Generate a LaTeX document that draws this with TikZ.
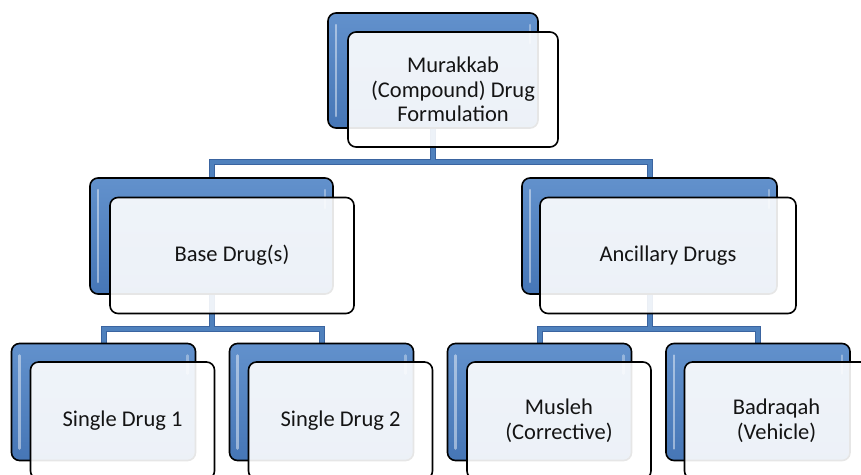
\documentclass[tikz,border=0pt]{standalone}
\usepackage{fontspec}
\setmainfont{Carlito}
\usetikzlibrary{backgrounds}
\definecolor{ablue}{RGB}{79,129,189}
\definecolor{dblue}{RGB}{58,100,160}
\definecolor{tblue}{RGB}{98,145,204}
\definecolor{bblue}{RGB}{70,118,182}
\definecolor{txt}{RGB}{20,20,20}
\tikzset{
  backbox/.style={draw=black, line width=1.6pt, rounded corners=8pt,
    top color=tblue, bottom color=bblue, inner sep=0pt,
    path picture={
      \draw[white, opacity=0.45, line width=2.5pt, line cap=round]
        ([xshift=8pt,yshift=-12pt]path picture bounding box.north west)
        -- ([xshift=8pt,yshift=12pt]path picture bounding box.south west);
      \draw[white, opacity=0.35, line width=2.5pt, line cap=round]
        ([xshift=-8pt,yshift=-12pt]path picture bounding box.north east)
        -- ([xshift=-8pt,yshift=-30pt]path picture bounding box.north east);
    }},
  frontbox/.style={draw=black, line width=1.6pt, rounded corners=8pt,
    fill=white, fill opacity=0.9, text opacity=1, draw opacity=1,
    inner sep=0pt, align=center, text=txt,
    font=\fontsize{22.5}{24.5}\selectfont},
  conn/.style={draw=dblue, line width=6pt, line join=miter, line cap=butt,
    postaction={draw=ablue, line width=4pt}},
  top/.style={minimum width=210pt, minimum height=115pt},
  mid/.style={minimum height=116pt},
  low/.style={minimum width=184pt, minimum height=117pt}
}
\begin{document}
\begin{tikzpicture}[x=1pt, y=-1pt]
\useasboundingbox (0,0) rectangle (861,474);
% top level
\node[backbox, top] (b0) at (433,70.5) {};
\node[frontbox, top] (f0) at (453,89.5) {Murakkab\\(Compound) Drug\\Formulation};
% second level
\node[backbox, mid, minimum width=243pt] (b1) at (211.5,236) {};
\node[frontbox, mid, minimum width=244pt] (f1) at (232,255.5) {Base Drug(s)};
\node[backbox, mid, minimum width=255pt] (b2) at (649.5,236) {};
\node[frontbox, mid, minimum width=256pt] (f2) at (668,255.5) {Ancillary Drugs};
% third level
\node[backbox, low] (b3) at (103.5,402) {};
\node[frontbox, low] (f3) at (122.5,420.5) {Single Drug 1};
\node[backbox, low] (b4) at (321.5,402) {};
\node[frontbox, low] (f4) at (340.5,420.5) {Single Drug 2};
\node[backbox, low] (b5) at (539.5,402) {};
\node[frontbox, low] (f5) at (559,420.5) {Musleh\\(Corrective)};
\node[backbox, low] (b6) at (758,402) {};
\node[frontbox, low] (f6) at (776.5,420.5) {Badraqah\\(Vehicle)};
% connectors
\coordinate (j0) at (433,162);
\coordinate (j1) at (211.5,329);
\coordinate (j2) at (649.5,329);
\begin{scope}[on background layer]
\draw[conn] (b1.north) |- (j0) -| (b2.north) (b0.south) -- (j0);
\draw[conn] (b3.north) |- (j1) -| (b4.north) (b1.south) -- (j1);
\draw[conn] (b5.north) |- (j2) -| (b6.north) (b2.south) -- (j2);
\end{scope}
\end{tikzpicture}
\end{document}
